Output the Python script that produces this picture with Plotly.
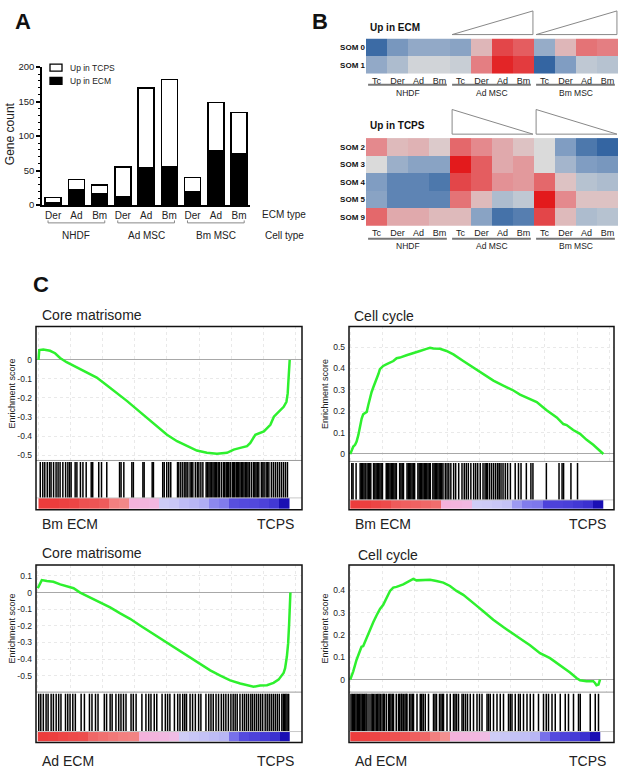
import plotly.graph_objects as go

W, H = 625, 775
FONT = "Liberation Sans, Arial, Helvetica, sans-serif"

# ================= DATA =================
# Panel A
ecm_types = ["Der", "Ad", "Bm", "Der", "Ad", "Bm", "Der", "Ad", "Bm"]
cell_types = ["NHDF", "Ad MSC", "Bm MSC"]
up_in_ecm = [4, 23, 16, 12, 54, 56, 20, 79, 75]
up_in_tcps = [7, 14, 13, 43, 116, 126, 20, 70, 59]
y_ticks_a = [0, 50, 100, 150, 200]

# Panel B (relative expression, -1 = blue, +1 = red)
hm_columns = ["Tc", "Der", "Ad", "Bm"]
som_ecm_rows = ["SOM 0", "SOM 1"]
som_ecm = [
    [-0.9, -0.55, -0.4, -0.4, -0.45, 0.22, 0.8, 0.7, -0.38, 0.22, 0.6, 0.55],
    [-0.4, -0.25, -0.05, -0.05, -0.1, 0.55, 0.95, 0.85, -0.95, -0.5, -0.15, -0.2],
]
som_tcps_rows = ["SOM 2", "SOM 3", "SOM 4", "SOM 5", "SOM 9"]
som_tcps = [
    [0.5, 0.2, 0.25, 0.1, 0.65, 0.5, 0.3, 0.15, 0.0, -0.5, -0.8, -0.95],
    [0.0, -0.35, -0.45, -0.45, 1.0, 0.7, 0.3, 0.4, 0.0, -0.3, -0.5, -0.55],
    [-0.5, -0.7, -0.7, -0.8, 0.8, 0.7, 0.45, 0.4, 0.65, 0.15, -0.2, -0.25],
    [-0.45, -0.7, -0.7, -0.7, 0.6, 0.2, -0.25, -0.15, 1.0, 0.5, 0.15, 0.15],
    [0.65, 0.3, 0.3, 0.2, 0.2, -0.45, -0.85, -0.75, 0.8, 0.2, -0.25, -0.2],
]

# Panel C: running enrichment score (x = % of ranked gene list)
bm_core_pct = [0, 0.3, 1.9, 4.6, 6.6, 8.6, 11.2, 15.2, 19.2, 23.2, 27.2, 31.2, 35.2, 39.2, 43.2, 47.2, 51.2,
               55.2, 59.1, 63.1, 67.1, 71.1, 75.1, 77.8, 80.4, 83.1, 84.4, 86.4, 89.8, 92.4, 93.8, 95.7, 97.7,
               98.8, 99.3, 99.6, 99.9, 100.1]
bm_core_es = [0, 0.052, 0.055, 0.048, 0.035, 0.010, -0.012, -0.038, -0.064, -0.093, -0.133, -0.173, -0.215,
              -0.26, -0.306, -0.349, -0.393, -0.427, -0.453, -0.476, -0.488, -0.493, -0.488, -0.471, -0.462,
              -0.453, -0.436, -0.393, -0.375, -0.341, -0.298, -0.272, -0.246, -0.22, -0.176, -0.107, -0.038, 0]
bm_core_hits = [0.7, 1.7, 2.5, 3.5, 4.4, 5.0, 6.0, 7.0, 7.8, 8.6, 9.7, 10.8, 11.7, 12.4, 13.0, 14.6, 15.3, 16.7,
                17.7, 19.0, 21.0, 21.6, 24.0, 25.1, 27.2, 32.3, 32.9, 34.0, 37.2, 37.8, 41.6, 42.1, 45.3, 45.8,
                49.5, 50.1, 51.1, 51.9, 52.7, 55.4, 55.9, 56.7, 57.5, 58.3, 58.8, 59.5, 60.4, 61.0, 61.5, 62.5,
                63.3, 63.9, 64.7, 65.5, 66.8, 67.3, 67.9, 68.4, 68.9, 69.5, 70.0, 70.5, 71.0, 71.6, 72.1, 72.9,
                73.7, 74.2, 74.8, 75.3, 75.8, 76.4, 77.2, 77.7, 78.2, 78.8, 79.3, 79.8, 80.3, 80.9, 81.4, 81.9,
                82.5, 83.0, 83.5, 84.1, 84.9, 85.7, 86.2, 86.7, 87.3, 87.8, 88.8, 89.4, 89.9, 90.7, 91.2, 91.8,
                92.8, 93.6, 94.4, 95.2, 96.0, 96.8, 97.6, 98.4, 99.2]
bm_core_metric = [1.0, 1.0, 0.97, 0.95, 0.88, 0.86, 0.82, 0.6, 0.55, 0.3, 0.28, 0.25, -0.12, -0.15, -0.25,
                  -0.3, -0.35, -0.55, -0.6, -0.8, -0.82, -0.83, -0.85, -0.88, -1.0]

bm_cycle_pct = [0, 0.5, 1.2, 1.9, 2.5, 3.2, 3.8, 4.5, 5.1, 5.8, 6.5, 7.1, 7.8, 8.4, 9.1, 9.7, 10.4, 11.1, 11.7,
                12.4, 13.0, 14.4, 15.7, 17.0, 18.3, 19.6, 22.2, 24.9, 27.5, 30.1, 31.5, 32.8, 35.4, 38.0, 40.7,
                44.6, 48.6, 52.5, 56.5, 60.4, 64.4, 67.0, 69.7, 73.6, 77.5, 81.5, 84.1, 85.4, 88.0, 90.7, 93.3,
                95.9, 98.5, 99.9]
bm_cycle_es = [0, 0.012, 0.035, 0.043, 0.058, 0.089, 0.128, 0.166, 0.186, 0.192, 0.197, 0.228, 0.266, 0.289,
               0.312, 0.328, 0.351, 0.374, 0.397, 0.405, 0.412, 0.42, 0.428, 0.435, 0.448, 0.451, 0.462, 0.474,
               0.482, 0.492, 0.497, 0.494, 0.492, 0.482, 0.466, 0.435, 0.405, 0.374, 0.343, 0.32, 0.297, 0.278,
               0.263, 0.243, 0.205, 0.171, 0.14, 0.135, 0.112, 0.094, 0.066, 0.043, 0.015, 0]
bm_cycle_hits = [0.6, 1.1, 2.3, 3.9, 4.4, 4.9, 5.4, 5.9, 6.6, 7.1, 7.6, 8.1, 9.2, 9.7, 10.2, 10.7, 11.2, 11.7,
                 12.2, 12.7, 14.2, 14.7, 15.2, 15.7, 16.2, 16.7, 17.2, 17.7, 18.2, 19.5, 20.0, 20.5, 21.0, 22.4,
                 22.9, 23.4, 23.9, 24.4, 24.9, 25.4, 26.7, 27.2, 27.7, 28.2, 28.7, 29.2, 29.7, 30.2, 30.7, 31.2,
                 31.6, 32.6, 33.1, 33.6, 34.1, 34.6, 35.1, 35.6, 36.1, 36.6, 37.5, 38.2, 38.9, 39.7, 40.8, 41.6,
                 42.8, 44.1, 45.0, 45.8, 46.6, 47.6, 48.7, 49.5, 50.3, 51.3, 52.4, 53.2, 53.7, 54.2, 55.0, 55.8,
                 56.6, 57.4, 58.2, 58.8, 59.5, 60.3, 61.2, 62.1, 63.2, 65.1, 66.4, 67.4, 69.5, 71.3, 72.1, 77.4,
                 82.4, 83.6, 84.2, 87.1, 89.7]
bm_cycle_metric = [1.0, 0.98, 0.95, 0.92, 0.82, 0.8, 0.78, 0.75, 0.72, 0.3, 0.28, 0.25, -0.1, -0.12, -0.15,
                   -0.2, -0.45, -0.6, -0.62, -0.85, -0.85, -0.86, -0.88, -0.9, -1.0]

ad_core_pct = [0, 1.6, 3.6, 6.2, 8.9, 11.5, 14.2, 16.8, 19.4, 22.1, 24.7, 28.7, 32.7, 36.6, 40.6, 44.6, 48.5,
               52.5, 56.5, 60.4, 64.4, 68.4, 72.4, 76.3, 80.3, 84.3, 85.6, 88.2, 90.9, 93.5, 95.5, 97.5, 98.1,
               98.8, 99.3, 99.7, 100.0, 100.2]
ad_core_es = [0.026, 0.075, 0.069, 0.065, 0.049, 0.036, 0.026, 0, -0.02, -0.04, -0.059, -0.089, -0.125, -0.158,
              -0.198, -0.237, -0.277, -0.316, -0.356, -0.395, -0.431, -0.468, -0.5, -0.528, -0.547, -0.563,
              -0.567, -0.559, -0.557, -0.543, -0.524, -0.484, -0.455, -0.385, -0.306, -0.188, -0.049, 0]
ad_core_hits = [0.4, 1.2, 2.2, 3.3, 4.1, 5.3, 6.2, 7.3, 8.3, 9.2, 11.0, 11.9, 12.8, 13.9, 14.9, 17.2, 18.5, 20.5,
                21.5, 22.9, 23.9, 26.4, 27.3, 28.7, 29.5, 31.0, 32.1, 33.0, 34.0, 35.0, 37.0, 37.9, 39.0, 41.3,
                42.9, 44.0, 44.9, 46.2, 47.2, 49.3, 50.6, 51.5, 52.4, 54.2, 55.5, 56.4, 57.5, 58.3, 59.0, 60.4,
                61.4, 62.5, 63.8, 64.7, 66.7, 67.8, 68.7, 69.6, 70.7, 71.7, 72.8, 73.7, 74.6, 75.6, 76.6, 77.5,
                78.3, 79.1, 80.2, 81.2, 82.0, 82.8, 83.6, 84.5, 85.2, 86.0, 86.8, 87.6, 88.4, 89.2, 90.2, 91.0,
                91.8, 92.6, 93.4, 94.2, 95.0, 95.8, 96.8, 97.4, 97.9, 98.4, 98.9, 99.5]
ad_core_metric = [1.0, 0.98, 0.95, 0.92, 0.9, 0.75, 0.7, 0.65, 0.6, 0.58, 0.3, 0.28, 0.25, 0.2, -0.1, -0.15,
                  -0.2, -0.25, -0.3, -0.65, -0.82, -0.85, -0.87, -0.9, -1.0]

ad_cycle_pct = [0, 0.5, 1.2, 2.5, 3.9, 4.5, 5.2, 6.5, 7.2, 7.9, 9.2, 10.5, 11.9, 13.2, 14.5, 15.9, 17.2, 18.5,
                21.2, 23.9, 25.2, 26.5, 29.2, 31.9, 34.5, 37.2, 39.9, 42.5, 45.2, 47.9, 50.5, 53.2, 57.2, 61.2,
                63.9, 67.9, 71.9, 75.9, 79.9, 83.9, 87.9, 90.5, 91.9, 94.5, 97.2, 97.9, 98.5, 99.3, 99.9]
ad_cycle_es = [0, 0.015, 0.037, 0.088, 0.132, 0.147, 0.15, 0.184, 0.206, 0.228, 0.257, 0.287, 0.316, 0.335,
               0.368, 0.397, 0.412, 0.415, 0.426, 0.444, 0.451, 0.444, 0.444, 0.447, 0.441, 0.434, 0.419, 0.397,
               0.379, 0.356, 0.331, 0.306, 0.268, 0.235, 0.213, 0.184, 0.154, 0.118, 0.096, 0.066, 0.032, 0.007,
               -0.003, -0.007, -0.007, -0.015, -0.025, -0.022, 0]
ad_cycle_hits = [0.3, 0.8, 1.3, 1.8, 2.3, 2.8, 3.3, 3.8, 4.3, 4.8, 5.3, 5.8, 6.3, 6.7, 7.5, 8.3, 8.8, 9.3, 9.9,
                 10.5, 11.0, 11.5, 12.0, 12.7, 13.3, 13.6, 14.4, 15.3, 15.8, 16.3, 16.9, 17.3, 18.4, 19.3, 19.8,
                 20.4, 20.7, 21.3, 21.9, 22.4, 22.7, 23.7, 24.3, 24.9, 25.3, 26.7, 28.0, 28.6, 29.2, 30.0, 31.3,
                 33.3, 33.9, 34.5, 35.7, 36.3, 36.9, 37.3, 38.7, 40.0, 41.3, 41.9, 42.5, 43.3, 44.7, 45.3, 46.1,
                 46.9, 48.0, 49.3, 50.7, 51.7, 52.7, 54.7, 55.3, 56.0, 57.3, 58.7, 60.0, 61.3, 63.3, 64.0, 64.7,
                 66.0, 67.3, 68.0, 69.3, 70.7, 72.0, 73.3, 75.3, 77.3, 78.4, 79.3, 80.7, 82.0, 84.0, 86.0, 87.3,
                 89.3, 91.3, 92.0, 96.0, 98.0, 99.3]
ad_cycle_metric = [1.0, 0.97, 0.95, 0.9, 0.88, 0.85, 0.8, 0.75, 0.6, 0.5, 0.3, 0.28, 0.25, 0.2, -0.1, -0.15,
                   -0.2, -0.22, -0.3, -0.65, -0.82, -0.85, -0.87, -0.9, -1.0]

es_ticks_bm_core = [0, -0.1, -0.2, -0.3, -0.4, -0.5]
es_ticks_bm_cycle = [0, 0.1, 0.2, 0.3, 0.4, 0.5]
es_ticks_ad_core = [0.1, 0, -0.1, -0.2, -0.3, -0.4, -0.5]
es_ticks_ad_cycle = [0, 0.1, 0.2, 0.3, 0.4]

# ================= STYLE =================
HM_SCALE = [[0, "#2b5f9e"], [0.25, "#809dc2"], [0.5, "#dadada"], [0.75, "#e4898d"], [1, "#e31a1c"]]
METRIC_SCALE = [[0.0, "#1a0fb4"], [0.03, "#2d22c8"], [0.08, "#5046dc"], [0.15, "#6c64e8"], [0.22, "#8a86ee"],
                [0.35, "#b8b6f4"], [0.45, "#cfcdf6"], [0.5, "#dad4f4"], [0.6, "#f0bce4"], [0.66, "#f5b0da"],
                [0.75, "#f39090"], [0.85, "#f07070"], [1.0, "#ec3c3c"]]
GRID = "#e9e9e9"


def xd(a, b):
    return [a / W, b / W]


def yd(top, bottom):
    return [1 - bottom / H, 1 - top / H]


def px(x):
    return x / W


def py(y):
    return 1 - y / H


annotations = []
shapes = []


def ann(text, x, y, size, xanchor="left", yanchor="middle", bold=False, angle=0, color="#222"):
    annotations.append(dict(text=f"<b>{text}</b>" if bold else text, x=px(x), y=py(y), xref="paper",
                            yref="paper", xanchor=xanchor, yanchor=yanchor, showarrow=False,
                            font=dict(size=size, color=color, family=FONT), textangle=angle))


fig = go.Figure()
layout = dict(width=W, height=H, margin=dict(l=0, r=0, t=0, b=0), paper_bgcolor="white",
              plot_bgcolor="rgba(0,0,0,0)", font=dict(family=FONT, color="#222"), barmode="stack",
              showlegend=False)

# ================= PANEL A =================
xpos = list(range(len(ecm_types)))
bar_series = [("Up in ECM", up_in_ecm, "black"), ("Up in TCPS", up_in_tcps, "white")]
for name, vals, col in bar_series:
    fig.add_trace(go.Bar(x=xpos, y=vals, name=name, width=0.69,
                         marker=dict(color=col, line=dict(color="black", width=1.5)), xaxis="x", yaxis="y"))
layout["xaxis"] = dict(domain=xd(42, 250), range=[-0.48, 8.47], tickvals=xpos, ticktext=ecm_types,
                       showline=True, linecolor="black", linewidth=1.5, ticks="", showgrid=False,
                       zeroline=False, tickfont=dict(size=10, color="#222"), anchor="y")
layout["yaxis"] = dict(domain=yd(62, 202), range=[0, 200], tickvals=y_ticks_a, showline=True,
                       linecolor="black", linewidth=1.5, ticks="outside", ticklen=4, tickwidth=1.5,
                       tickcolor="black", minor=dict(ticks="outside", ticklen=2.5, dtick=10, tickwidth=1,
                                                     tickcolor="black"),
                       showgrid=False, zeroline=False, tickfont=dict(size=9.5, color="#222"), anchor="x")
# legend (drawn as swatches + labels, top entry = white series)
for i, (name, vals, col) in enumerate(reversed(bar_series)):
    ly = 62.5 + 13.5 * i
    shapes.append(dict(type="rect", xref="paper", yref="paper", x0=px(50), x1=px(62), y0=py(ly + 3.5),
                       y1=py(ly - 3.5), fillcolor=col, line=dict(color="black", width=1.3)))
    ann(name, 68, ly, 8.5)
ann("A", 23, 16, 22, xanchor="center", bold=True, color="#111")
ann("Gene count", 10, 130, 12, xanchor="center", angle=-90)
ann("ECM type", 260, 212, 10)
ann("Cell type", 263, 233, 10)
for g, name in enumerate(cell_types):
    x0, x1 = 3 * g - 0.22, 3 * g + 2.22
    shapes.append(dict(type="path", xref="x", yref="paper",
                       path=f"M {x0},{py(217.5)} L {x0},{py(220)} L {x1},{py(220)} L {x1},{py(217.5)}",
                       line=dict(color="#888", width=1)))
    annotations.append(dict(text=name, x=3 * g + 1, y=py(233), xref="x", yref="paper", showarrow=False,
                            xanchor="center", yanchor="middle", font=dict(size=10, color="#222", family=FONT)))

# ================= PANEL B =================
hm_x = list(range(12))
hm_ticktext = hm_columns * 3
ann("B", 320, 16, 22, xanchor="center", bold=True, color="#111")
for idx, (rows, vals, top, bottom, lab, lab_y, line_y, grp_y, tri_dir) in enumerate([
        (som_ecm_rows, som_ecm, 33, 69, "Up in ECM", 22, 80, 88, "up"),
        (som_tcps_rows, som_tcps, 134, 223, "Up in TCPS", 121, 236, 243, "down")]):
    n = idx + 2
    fig.add_trace(go.Heatmap(z=vals, x=hm_x, y=list(range(len(rows))), colorscale=HM_SCALE, zmin=-1, zmax=1,
                             showscale=False, xaxis=f"x{n}", yaxis=f"y{n}", hoverinfo="skip"))
    layout[f"xaxis{n}"] = dict(domain=xd(366, 618), range=[-0.5, 11.5], tickvals=hm_x, ticktext=hm_ticktext,
                               ticks="", showgrid=False, zeroline=False, showline=False,
                               tickfont=dict(size=9, color="#222"), anchor=f"y{n}")
    layout[f"yaxis{n}"] = dict(domain=yd(top, bottom), range=[len(rows) - 0.5, -0.5],
                               tickvals=list(range(len(rows))), ticktext=[f"<b>{r}</b>" for r in rows],
                               ticks="", showgrid=False, zeroline=False, showline=False,
                               tickfont=dict(size=8, color="#111"), anchor=f"x{n}")
    ann(lab, 368, lab_y, 10, bold=True, color="#111")
    for g, name in enumerate(cell_types):
        shapes.append(dict(type="line", xref=f"x{n}", yref="paper", x0=4 * g - 0.4, x1=4 * g + 3.35,
                           y0=py(line_y), y1=py(line_y), line=dict(color="#777", width=2)))
        annotations.append(dict(text=name, x=4 * g + 1.5, y=py(grp_y), xref=f"x{n}", yref="paper",
                                showarrow=False, xanchor="center", yanchor="middle",
                                font=dict(size=8.5, color="#222", family=FONT)))
    # gradient triangles above the MSC groups
    for g in (1, 2):
        x0, x1 = 4 * g - 0.4, 4 * g + 3.45
        if tri_dir == "up":
            yt, yb = py(5), py(29)
            path = f"M {x0},{yb} L {x1},{yt} L {x1},{yb} Z"
        else:
            yt, yb = py(105), py(130)
            path = f"M {x0},{yt} L {x0},{yb} L {x1},{yb} Z"
        shapes.append(dict(type="path", xref=f"x{n}", yref="paper", path=path,
                           line=dict(color="#888", width=1)))

# ================= PANEL C =================
ann("C", 41, 283, 22, xanchor="center", bold=True, color="#111")
gsea = [
    dict(pct=bm_core_pct, es=bm_core_es, hits=bm_core_hits, metric=bm_core_metric, ticks=es_ticks_bm_core,
         box=(36, 325, 302, 511), es_bot=461, hits_bot=499, cbar_bot=510, xr=[-1, 105], yr=[-0.528, 0.176],
         title="Core matrisome", left="Bm ECM", title_xy=(40, 313), lab_y=525, ylab_x=12),
    dict(pct=bm_cycle_pct, es=bm_cycle_es, hits=bm_cycle_hits, metric=bm_cycle_metric, ticks=es_ticks_bm_cycle,
         box=(349, 325, 614, 511), es_bot=462, hits_bot=501, cbar_bot=510, xr=[-0.5, 104.1], yr=[-0.035, 0.597],
         title="Cell cycle", left="Bm ECM", title_xy=(352, 314), lab_y=525, ylab_x=325),
    dict(pct=ad_core_pct, es=ad_core_es, hits=ad_core_hits, metric=ad_core_metric, ticks=es_ticks_ad_core,
         box=(36, 567, 302, 747), es_bot=696, hits_bot=736, cbar_bot=746, xr=[-0.7, 104.8], yr=[-0.599, 0.166],
         title="Core matrisome", left="Ad ECM", title_xy=(40, 555), lab_y=766, ylab_x=12),
    dict(pct=ad_cycle_pct, es=ad_cycle_es, hits=ad_cycle_hits, metric=ad_cycle_metric, ticks=es_ticks_ad_cycle,
         box=(349, 567, 614, 747), es_bot=696, hits_bot=736, cbar_bot=746, xr=[-0.5, 105.5], yr=[-0.056, 0.513],
         title="Cell cycle", left="Ad ECM", title_xy=(356, 557), lab_y=766, ylab_x=325),
]
for k, p in enumerate(gsea):
    n = 4 + 3 * k
    x0, y0, x1, y1 = p["box"]
    # enrichment score curve
    fig.add_trace(go.Scatter(x=p["pct"], y=p["es"], mode="lines", line=dict(color="#2ef02e", width=2.5),
                             xaxis=f"x{n}", yaxis=f"y{n}", showlegend=False, hoverinfo="skip"))
    layout[f"xaxis{n}"] = dict(domain=xd(x0, x1), range=p["xr"], showgrid=True, gridcolor=GRID,
                               griddash="dot", gridwidth=1, tick0=0, dtick=12.8, showticklabels=False,
                               ticks="", zeroline=False, showline=False, anchor=f"y{n}")
    layout[f"yaxis{n}"] = dict(domain=yd(y0, p["es_bot"]), range=p["yr"], tickvals=p["ticks"],
                               ticktext=[f"{v:g}" for v in p["ticks"]], showgrid=True, gridcolor=GRID,
                               griddash="dot", zeroline=True, zerolinecolor="#a8a8a8", zerolinewidth=1,
                               ticks="", showline=False, tickfont=dict(size=8.5, color="#222"),
                               ticklabelstandoff=3, anchor=f"x{n}")
    # gene hits
    hx, hy = [], []
    for h in p["hits"]:
        hx += [h, h, None]
        hy += [0, 1, None]
    fig.add_trace(go.Scatter(x=hx, y=hy, mode="lines", line=dict(color="black", width=1.5),
                             xaxis=f"x{n + 1}", yaxis=f"y{n + 1}", showlegend=False, hoverinfo="skip"))
    layout[f"xaxis{n + 1}"] = dict(domain=xd(x0, x1), range=p["xr"], visible=False, anchor=f"y{n + 1}")
    layout[f"yaxis{n + 1}"] = dict(domain=yd(p["es_bot"], p["hits_bot"]), range=[0, 1.04], visible=False,
                                   anchor=f"x{n + 1}")
    # ranked list metric bar
    fig.add_trace(go.Heatmap(z=[p["metric"]], x0=2, dx=4, y=[0], colorscale=METRIC_SCALE, zmin=-1, zmax=1,
                             showscale=False, xaxis=f"x{n + 2}", yaxis=f"y{n + 2}", hoverinfo="skip"))
    layout[f"xaxis{n + 2}"] = dict(domain=xd(x0, x1), range=p["xr"], visible=False, anchor=f"y{n + 2}")
    layout[f"yaxis{n + 2}"] = dict(domain=yd(p["hits_bot"], p["cbar_bot"]), range=[-0.5, 0.5], visible=False,
                                   anchor=f"x{n + 2}")
    # frame and separators
    shapes.append(dict(type="line", xref="paper", yref="paper", x0=px(x0), x1=px(x1), y0=py(p["es_bot"]),
                       y1=py(p["es_bot"]), line=dict(color="#9a9a9a", width=1)))
    shapes.append(dict(type="line", xref="paper", yref="paper", x0=px(x0), x1=px(x1), y0=py(p["hits_bot"]),
                       y1=py(p["hits_bot"]), line=dict(color="#c8c8c8", width=1)))
    shapes.append(dict(type="rect", xref="paper", yref="paper", x0=px(x0), x1=px(x1), y0=py(y1), y1=py(y0),
                       line=dict(color="#111", width=1.5), fillcolor="rgba(0,0,0,0)"))
    # texts
    ann(p["title"], p["title_xy"][0], p["title_xy"][1], 14)
    ann("Enrichment score", p["ylab_x"], (y0 + p["es_bot"]) / 2, 9, xanchor="center", angle=-90)
    ann(p["left"], x0 + 4, p["lab_y"], 14)
    ann("TCPS", x1 - 6, p["lab_y"], 14, xanchor="right")

layout["annotations"] = annotations
layout["shapes"] = shapes
fig.update_layout(**layout)
fig.write_html("out.html", config={"displayModeBar": False},
               post_script="document.body.style.margin='0px';")
